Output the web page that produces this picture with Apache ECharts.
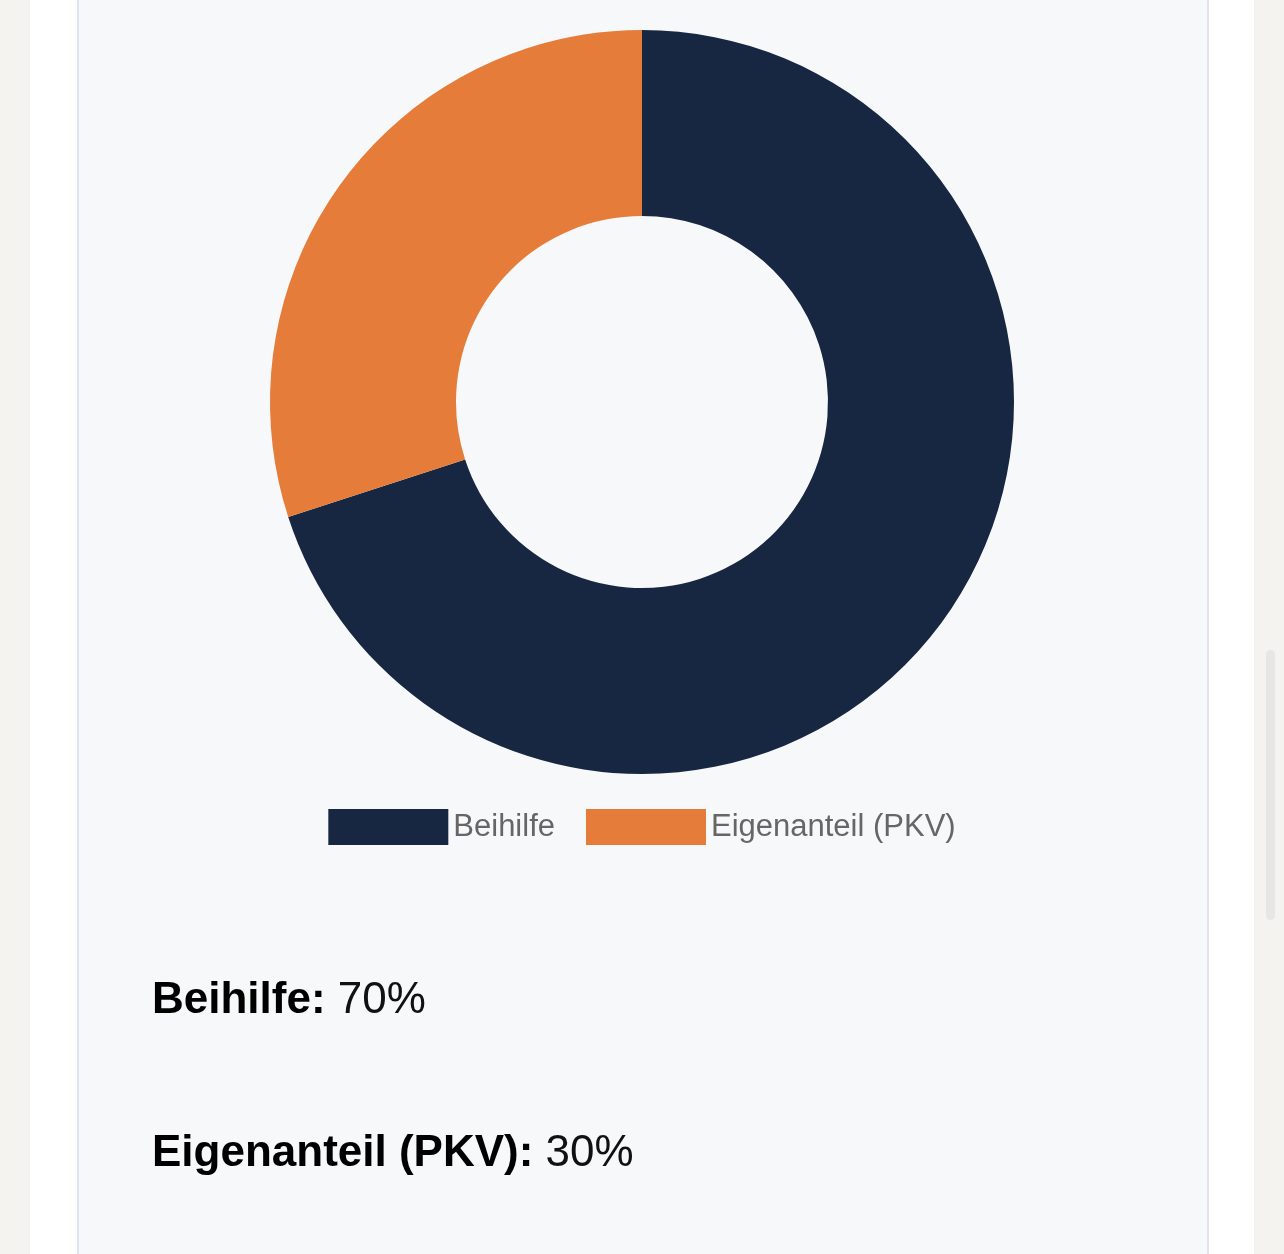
<!DOCTYPE html>
<html><head><meta charset="utf-8">
<script src="https://cdn.jsdelivr.net/npm/echarts@6/dist/echarts.min.js"></script>
<style>
html,body{margin:0;padding:0;width:1284px;height:1254px;background:#f4f3ef;overflow:hidden;font-family:"Liberation Sans",Arial,sans-serif;}
#page{position:absolute;left:30px;top:0;width:1224px;height:1254px;background:#fff;}
#card{position:absolute;left:77px;top:-4px;width:1128px;height:1270px;background:#f7f8fa;border:2px solid #dfe5ee;}
#chart{position:absolute;left:0;top:0;width:1284px;height:1254px;}
.t{position:absolute;left:152px;font-size:44px;color:#111;}
.t b{color:#000;}
#sb{position:absolute;left:1266px;top:650px;width:9px;height:270px;border-radius:5px;background:#e6e6e4;}
</style></head><body>
<div id="page"></div><div id="card"></div><div id="sb"></div>
<div id="chart"></div>
<div class="t" style="top:973px"><b>Beihilfe:</b> 70%</div>
<div class="t" style="top:1126px"><b>Eigenanteil (PKV):</b> 30%</div>
<script>
const categories = ["Beihilfe", "Eigenanteil (PKV)"];
const values = [70, 30];
const colors = ["#172641", "#e67c39"];
const chart = echarts.init(document.getElementById('chart'));
chart.setOption({
  animation:false,
  color: colors,
  legend:{data:categories,top:804,left:'center',itemWidth:120,itemHeight:36,itemGap:31,icon:'rect',
    textStyle:{fontSize:31,color:'#666',fontFamily:'Liberation Sans'}},
  series:[{type:'pie',center:[642,402],radius:[186,372],startAngle:90,label:{show:false},labelLine:{show:false},
    itemStyle:{borderWidth:0},
    data:categories.map((c,i)=>({name:c,value:values[i]}))}]
});
</script></body></html>
